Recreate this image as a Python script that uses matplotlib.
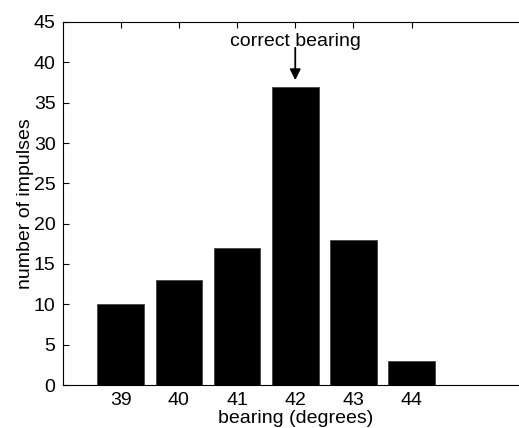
import matplotlib
matplotlib.use('Agg')
import matplotlib.pyplot as plt

bearing = [39, 40, 41, 42, 43, 44]
impulses = [10, 13, 17, 37, 18, 3]
yticks = [0, 5, 10, 15, 20, 25, 30, 35, 40, 45]

plt.rcParams['font.family'] = ['Liberation Sans', 'DejaVu Sans']

fig = plt.figure(figsize=(5.19, 4.28), dpi=100)
# axes run past the right edge of the picture, as in the original crop
ax = fig.add_axes([62.5/519, 43/428, (528-62.5)/519, 363/428])

ax.bar(bearing, impulses, width=0.8, color='black', edgecolor='#444444', linewidth=0.6)

ax.set_xlim(38, 46)
ax.set_ylim(0, 45)
ax.set_xticks(bearing)
ax.set_yticks(yticks)
ax.tick_params(direction='in', top=True, right=True, labelsize=14, length=4, width=0.8, pad=5)
for s in ax.spines.values():
    s.set_linewidth(0.8)

ax.set_xlabel('bearing (degrees)', fontsize=14, labelpad=1)
ax.set_ylabel('number of impulses', fontsize=14, labelpad=0)

ax.text(42, 42.6, 'correct bearing', ha='center', va='center', fontsize=14)
ax.annotate('', xy=(42, 37.8), xytext=(42, 41.8),
            arrowprops=dict(arrowstyle='-|>', color='black', lw=1.3,
                            mutation_scale=16, shrinkA=0, shrinkB=0))

fig.savefig('out.png', dpi=100)
